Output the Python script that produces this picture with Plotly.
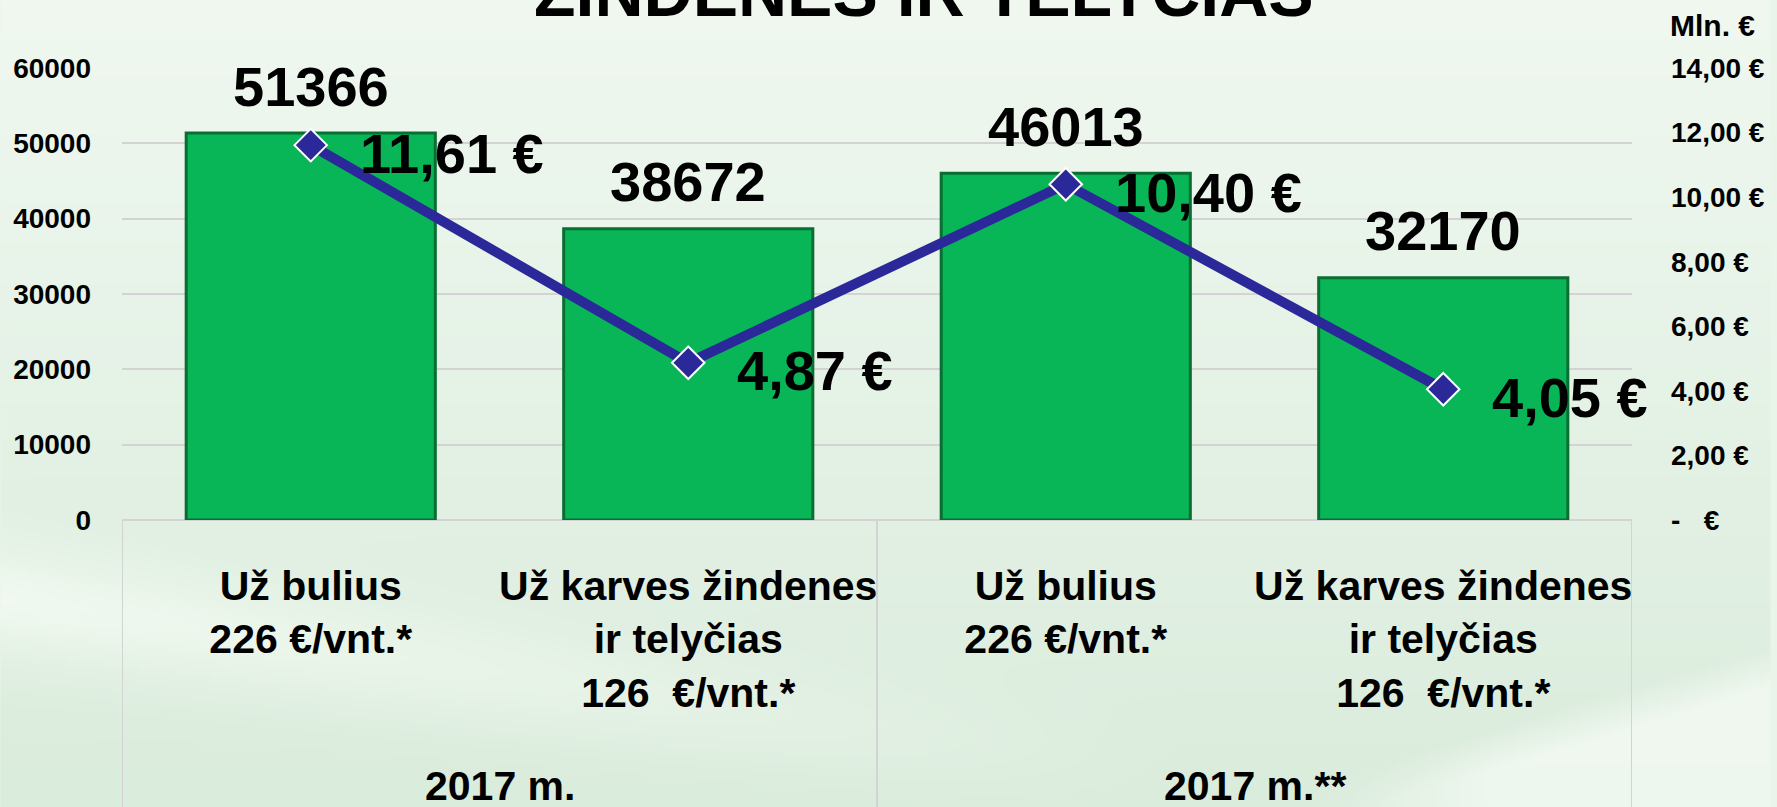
import plotly.graph_objects as go
import numpy as np
import zlib, struct, base64

# ---------------- data ----------------
cat_idx = [0, 1, 2, 3]
cat_labels = [
    "Už bulius<br>226 €/vnt.*",
    "Už karves žindenes<br>ir telyčias<br>126\u00a0 €/vnt.*",
    "Už bulius<br>226 €/vnt.*",
    "Už karves žindenes<br>ir telyčias<br>126\u00a0 €/vnt.*",
]
group_labels = ["2017 m.", "2017 m.**"]
group_centers = [0.5, 2.5]
head_counts = [51366, 38672, 46013, 32170]
amounts_mln = [11.61, 4.87, 10.40, 4.05]
amount_labels = ["11,61 €", "4,87 €", "10,40 €", "4,05 €"]
left_tickvals = [0, 10000, 20000, 30000, 40000, 50000, 60000]
right_tickvals = [0, 2, 4, 6, 8, 10, 12, 14]
right_ticktext = ["-\u00a0\u00a0 €", "2,00 €", "4,00 €", "6,00 €", "8,00 €",
                  "10,00 €", "12,00 €", "14,00 €"]
title_text = "ŽINDENES IR TELYČIAS"
right_axis_title = "Mln. €"

# ---------------- layout geometry ----------------
W, H = 1777, 807
ML, MR, MT, MB = 122, 139, 68, 287
PW, PH = W - ML - MR, H - MT - MB
FONT = "Liberation Sans, Arial, sans-serif"

# ---------------- background gradient image ----------------
def make_bg():
    w, h = W // 4, H // 4
    ys, xs = np.mgrid[0:h, 0:w].astype(float)
    X = xs / (w - 1) * W
    Y = ys / (h - 1) * H
    t = Y / H
    top = np.array([240, 248, 240], float)
    bot = np.array([218, 236, 220], float)
    img = top[None, None, :] * (1 - t[..., None]) + bot[None, None, :] * t[..., None]
    # diagonal light streak lower-left
    d = (Y - (600 + 0.15 * X))
    streak = np.exp(-(d / 55.0) ** 2) * np.clip(1 - X / 1200, 0, 1)
    img = img + streak[..., None] * (np.array([246, 252, 244]) - img) * 0.75
    # bright swoosh lower-right
    edge = 760 - 0.3 * (X - 1400)
    sw = np.clip((Y - edge) / 40, 0, 1) * np.clip((X - 1300) / 200, 0, 1)
    img = img + sw[..., None] * (np.array([244, 250, 243]) - img) * 0.8
    arr = np.clip(img, 0, 255).astype(np.uint8)
    raw = b"".join(b"\x00" + row.tobytes() for row in arr)

    def chunk(tag, data):
        return (struct.pack(">I", len(data)) + tag + data
                + struct.pack(">I", zlib.crc32(tag + data) & 0xFFFFFFFF))

    png = (b"\x89PNG\r\n\x1a\n"
           + chunk(b"IHDR", struct.pack(">IIBBBBB", w, h, 8, 2, 0, 0, 0))
           + chunk(b"IDAT", zlib.compress(raw, 9))
           + chunk(b"IEND", b""))
    return "data:image/png;base64," + base64.b64encode(png).decode()

fig = go.Figure()

fig.add_trace(go.Bar(
    x=cat_idx, y=head_counts, width=0.66,
    marker=dict(color="#08B657", line=dict(color="#0A6E33", width=3)),
    yaxis="y", hoverinfo="skip", showlegend=False,
))

fig.add_trace(go.Scatter(
    x=cat_idx, y=amounts_mln, yaxis="y2", mode="lines+markers",
    line=dict(color="#2B2899", width=10),
    marker=dict(symbol="diamond", size=25, color="#2B2899",
                line=dict(color="white", width=2)),
    hoverinfo="skip", showlegend=False,
))

annotations = []
for x, v in zip(cat_idx, head_counts):
    annotations.append(dict(
        x=x, y=v, xref="x", yref="y", text=str(v), showarrow=False,
        yshift=47, yanchor="middle",
        font=dict(family=FONT, size=56, color="black", weight="bold")))
for x, v, s in zip(cat_idx, amounts_mln, amount_labels):
    annotations.append(dict(
        x=x, y=v, xref="x", yref="y2", text=s, showarrow=False,
        xanchor="left", yanchor="middle", xshift=47, yshift=-8,
        font=dict(family=FONT, size=56, color="black", weight="bold")))
for xc, g in zip(group_centers, group_labels):
    annotations.append(dict(
        x=xc, y=0, xref="x", yref="paper", text=g, showarrow=False,
        yanchor="middle", yshift=-(786 - 520),
        font=dict(family=FONT, size=41, color="black", weight="bold")))
annotations.append(dict(
    x=(927 - 122) / PW, y=1, xref="paper", yref="paper", text=title_text,
    showarrow=False, yanchor="bottom", yshift=36,
    font=dict(family=FONT, size=68, color="black", weight="bold")))
annotations.append(dict(
    x=1, y=1, xref="paper", yref="paper", text=right_axis_title,
    showarrow=False, xanchor="left", yanchor="middle", xshift=36, yshift=43,
    font=dict(family=FONT, size=30, color="black", weight="bold")))

grey = "#D3D3D3"
shapes = []
for xv in [-0.5, 1.5, 3.5]:
    shapes.append(dict(type="line", xref="x", yref="paper", x0=xv, x1=xv,
                       y0=0, y1=-(MB + 5) / PH, line=dict(color=grey, width=2),
                       layer="below"))
shapes.append(dict(type="line", xref="x", yref="paper", x0=-0.5, x1=3.5,
                   y0=0, y1=0, line=dict(color=grey, width=2), layer="below"))

fig.update_layout(
    width=W, height=H, autosize=False,
    margin=dict(l=ML, r=MR, t=MT, b=MB, pad=0),
    paper_bgcolor="#EAF5EA", plot_bgcolor="rgba(0,0,0,0)",
    font=dict(family=FONT, color="black"),
    images=[dict(source=make_bg(), xref="paper", yref="paper",
                 x=-ML / PW, y=1 + MT / PH, sizex=W / PW, sizey=H / PH,
                 xanchor="left", yanchor="top", sizing="stretch",
                 layer="below", opacity=1)],
    xaxis=dict(range=[-0.5, 3.5], tickvals=cat_idx, ticktext=cat_labels,
               showgrid=False, zeroline=False, showline=False, ticks="",
               ticklabelstandoff=38,
               tickfont=dict(family=FONT, size=41, color="black", weight="bold")),
    yaxis=dict(range=[0, 60000], tickvals=left_tickvals,
               tickformat="d", showgrid=True, gridcolor=grey, gridwidth=2,
               zeroline=False, showline=False, ticks="",
               ticklabelstandoff=30,
               tickfont=dict(family=FONT, size=28, color="black", weight="bold")),
    yaxis2=dict(range=[0, 14], overlaying="y", side="right",
                tickvals=right_tickvals, ticktext=right_ticktext,
                showgrid=False, zeroline=False, showline=False, ticks="",
                ticklabelstandoff=38,
                tickfont=dict(family=FONT, size=28, color="black", weight="bold")),
    annotations=annotations, shapes=shapes, showlegend=False,
)

fig.write_html(
    "out.html",
    config={"responsive": False, "displayModeBar": False},
    post_script="document.body.style.margin='0';"
                "document.body.style.overflow='hidden';",
)
